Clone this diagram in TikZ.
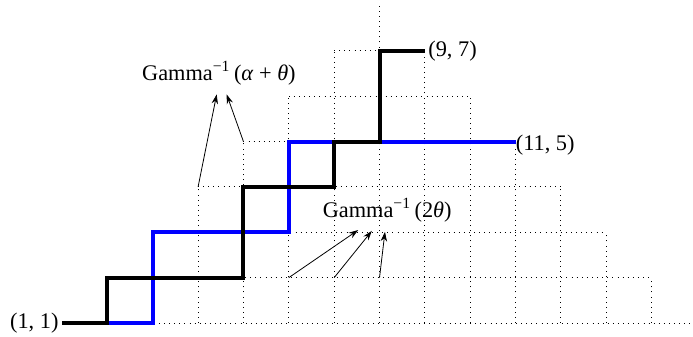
\documentclass[tikz,border=0pt]{standalone}
\usepackage{fontspec}
\setmainfont{Liberation Serif}
\usetikzlibrary{arrows.meta}
\begin{document}
\begin{tikzpicture}[x=1cm,y=1cm,
  gridline/.style={line width=0.6pt, dash pattern=on 0.6pt off 2.6pt},
  blackpath/.style={line width=2.5pt, black},
  bluepath/.style={line width=2.5pt, blue},
  lbl/.style={font=\fontsize{14}{16}\selectfont, inner sep=1pt},
  ptr/.style={line width=0.5pt, -{Stealth[length=6pt,width=4pt]}}]
\useasboundingbox (-1.367,-0.2866) rectangle (13.911,7.121);
\begin{scope}
  \clip (-1.367,-0.2866) rectangle (13.911,7.121);
  \foreach \k in {1,...,7} {
    \draw[gridline] (\k-1,\k-1) -- (15-\k,\k-1);
  }
  \foreach \k in {2,...,14} {
    \pgfmathsetmacro{\topy}{min(\k,16-\k)-1}
    \draw[gridline] (\k-1,0) -- (\k-1,\topy);
  }
\end{scope}
% lattice points
\coordinate (p11) at (0,0);
\coordinate (p97) at (8,6);
\coordinate (p115) at (10,4);
\coordinate (q44) at (3,3);
\coordinate (q55) at (4,4);
\coordinate (q62) at (5,1);
\coordinate (q72) at (6,1);
\coordinate (q82) at (7,1);
% blue path
\draw[bluepath] (p11) -- (2,0) -- (2,2) -- (5,2) -- (5,4) -- (p115);
% black path
\draw[blackpath] (p11) -- (1,0) -- (1,1) -- (4,1) -- (4,3) -- (6,3) -- (6,4) -- (7,4) -- (7,6) -- (p97);
% labels
\node[lbl, anchor=east, inner sep=2pt] (l11) at (p11) {(1, 1)};
\node[lbl, anchor=west, inner sep=2pt] (l97) at (p97) {(9, 7)};
\node[lbl, anchor=west, inner sep=0pt, yshift=-2pt] (l115) at (p115) {(11, 5)};
\node[lbl] (ga) at (3.46,5.51) {Gamma\textsuperscript{−1}\,(\textit{α} + \textit{θ})};
\node[lbl] (gb) at (7.17,2.49) {Gamma\textsuperscript{−1}\,(2\textit{θ})};
% arrow tips
\coordinate (ta1) at (3.41,5.04);
\coordinate (ta2) at (3.63,5.04);
\coordinate (tb1) at (6.53,2.05);
\coordinate (tb2) at (6.83,2.03);
\coordinate (tb3) at (7.12,2.01);
\draw[ptr] (q44) -- (ta1);
\draw[ptr] (q55) -- (ta2);
\draw[ptr] (q62) -- (tb1);
\draw[ptr] (q72) -- (tb2);
\draw[ptr] (q82) -- (tb3);
\end{tikzpicture}
\end{document}
